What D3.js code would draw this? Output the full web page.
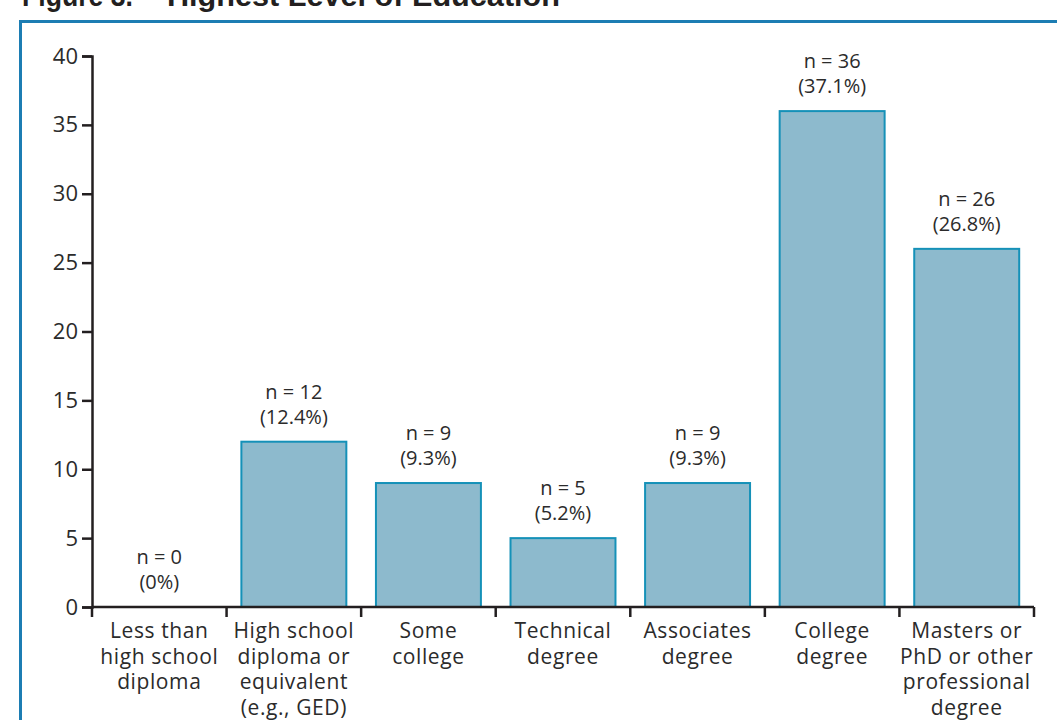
<!DOCTYPE html>
<html>
<head>
<meta charset="utf-8">
<script src="https://cdn.jsdelivr.net/npm/d3@7"></script>
<style>
  body { margin: 0; background: #fff; }
  svg { display: block; }
  text { font-family: "Open Sans", Lato, sans-serif; fill: #2b2b2b; }
</style>
</head>
<body>
<svg id="chart" width="1057" height="720"></svg>
<script>
// chart data
const categories = [
  ['Less than', 'high school', 'diploma'],
  ['High school', 'diploma or', 'equivalent', '(e.g., GED)'],
  ['Some', 'college'],
  ['Technical', 'degree'],
  ['Associates', 'degree'],
  ['College', 'degree'],
  ['Masters or', 'PhD or other', 'professional', 'degree'],
];
const counts = [0, 12, 9, 5, 9, 36, 26];
const percents = ['0%', '12.4%', '9.3%', '5.2%', '9.3%', '37.1%', '26.8%'];
const yTicks = [0, 5, 10, 15, 20, 25, 30, 35, 40];

const width = 1057;
const height = 720;
const margin = { top: 56, right: 23, bottom: 113, left: 92 };

const svg = d3.select('#chart');

// title, mostly cropped off the top of the page
const title = svg.append('g')
  .attr('font-weight', 'bold')
  .attr('font-size', 29);
title.append('text')
  .attr('x', 22)
  .attr('y', 6)
  .attr('textLength', 111)
  .attr('lengthAdjust', 'spacingAndGlyphs')
  .style('font-family', '"Liberation Sans", Arial, sans-serif')
  .style('fill', '#231f20')
  .text('Figure 3.');
title.append('text')
  .attr('x', 167)
  .attr('y', 6)
  .attr('textLength', 393)
  .attr('lengthAdjust', 'spacingAndGlyphs')
  .style('font-family', '"Liberation Sans", Arial, sans-serif')
  .style('fill', '#231f20')
  .text('Highest Level of Education');

// blue frame round the figure
svg.append('rect')
  .attr('x', 20.5)
  .attr('y', 21.5)
  .attr('width', width + 20)
  .attr('height', height + 20)
  .attr('fill', 'none')
  .attr('stroke', '#1c7db3')
  .attr('stroke-width', 3);

const ids = d3.range(categories.length);
const x = d3.scaleBand()
  .domain(ids)
  .range([margin.left, width - margin.right])
  .padding(0);

const y = d3.scaleLinear()
  .domain([0, 40])
  .range([height - margin.bottom, margin.top]);

const barW = x.bandwidth() * 0.78;

// bars
svg.append('g')
  .selectAll('rect')
  .data(ids.filter((i) => counts[i] > 0))
  .join('rect')
    .attr('x', (i) => x(i) + (x.bandwidth() - barW) / 2)
    .attr('y', (i) => y(counts[i]))
    .attr('width', barW)
    .attr('height', (i) => y(0) - y(counts[i]))
    .attr('fill', '#8dbacd')
    .attr('stroke', '#1591b8')
    .attr('stroke-width', 2);

// value labels above bars
const lab = svg.append('g')
  .selectAll('text')
  .data(ids)
  .join('text')
    .attr('text-anchor', 'middle')
    .attr('font-size', 20)
    .attr('x', (i) => x(i) + x.bandwidth() / 2);
lab.append('tspan')
  .attr('x', (i) => x(i) + x.bandwidth() / 2)
  .attr('y', (i) => y(counts[i]) - 43)
  .text((i) => `n = ${counts[i]}`);
lab.append('tspan')
  .attr('x', (i) => x(i) + x.bandwidth() / 2)
  .attr('y', (i) => y(counts[i]) - 18)
  .text((i) => `(${percents[i]})`);

// y axis
const yAxis = svg.append('g')
  .attr('transform', `translate(${margin.left},0)`)
  .call(d3.axisLeft(y).tickValues(yTicks).tickSize(10).tickPadding(4));
yAxis.select('.domain').attr('stroke', '#231f20').attr('stroke-width', 2.5);
yAxis.selectAll('.tick line').attr('stroke', '#231f20').attr('stroke-width', 2.5);
yAxis.selectAll('.tick text')
  .attr('font-size', 22)
  .style('font-family', '"Open Sans", Lato, sans-serif')
  .style('fill', '#2b2b2b');

// x axis: baseline plus ticks at band boundaries
const xAxis = svg.append('g')
  .attr('transform', `translate(0,${y(0)})`);
xAxis.append('line')
  .attr('x1', x.range()[0])
  .attr('x2', x.range()[1])
  .attr('stroke', '#231f20')
  .attr('stroke-width', 2.5);
xAxis.selectAll('.bound')
  .data(ids.map((i) => x(i)).concat([x.range()[1]]))
  .join('line')
    .attr('class', 'bound')
    .attr('x1', (d) => d)
    .attr('x2', (d) => d)
    .attr('y1', 0)
    .attr('y2', 10)
    .attr('stroke', '#231f20')
    .attr('stroke-width', 2.5);

const catText = xAxis.selectAll('.cat')
  .data(ids)
  .join('text')
    .attr('class', 'cat')
    .attr('text-anchor', 'middle')
    .attr('font-size', 21)
    .attr('letter-spacing', 0.6);
catText.selectAll('tspan')
  .data((i) => categories[i].map((line, k) => ({ i, line, k })))
  .join('tspan')
    .attr('x', (d) => x(d.i) + x.bandwidth() / 2)
    .attr('y', (d) => 31 + d.k * 25.5)
    .text((d) => d.line);
</script>
</body>
</html>
